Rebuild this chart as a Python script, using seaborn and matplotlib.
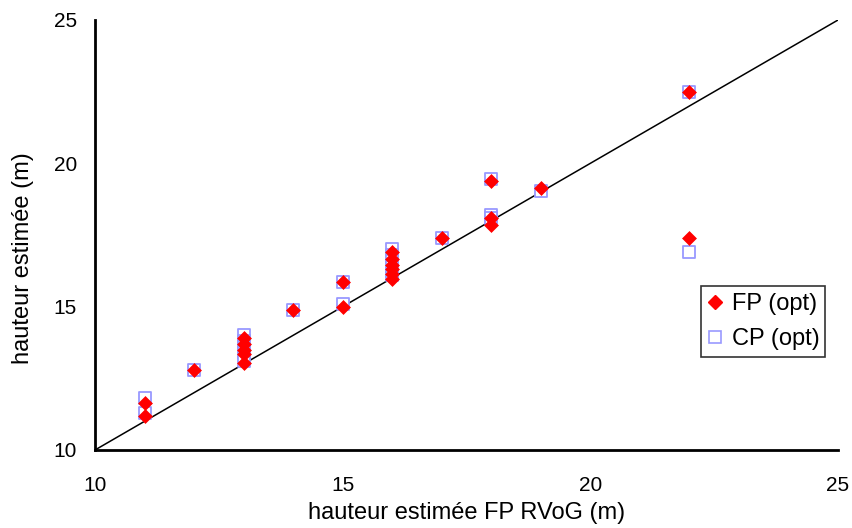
import matplotlib
matplotlib.use("Agg")
import matplotlib.pyplot as plt
import seaborn as sns
import pandas as pd
from matplotlib.lines import Line2D

# data
x_vals = [11, 11, 12, 13, 13, 13, 13, 13, 14, 15, 15,
          16, 16, 16, 16, 16, 16, 17, 18, 18, 18, 19, 22, 22]
fp_vals = [11.65, 11.2, 12.8, 13.9, 13.7, 13.5, 13.35, 13.05, 14.9, 15.85, 15.0,
           16.9, 16.65, 16.45, 16.3, 16.15, 15.95, 17.4, 19.4, 18.1, 17.85, 19.15, 22.5, 17.4]
cp_vals = [11.8, 11.3, 12.8, 14.0, 13.8, 13.6, 13.4, 13.1, 14.9, 15.85, 15.1,
           17.0, 16.8, 16.6, 16.4, 16.2, 16.1, 17.4, 19.45, 18.2, 18.1, 19.05, 22.5, 16.9]
line_x = [10, 25]
line_y = [10, 25]
ticks = [10, 15, 20, 25]

sns.set_style("white")
plt.rcParams['font.family'] = ['Liberation Sans', 'DejaVu Sans']
plt.rcParams.update({"text.color": "black", "axes.labelcolor": "black",
                     "xtick.color": "black", "ytick.color": "black"})

fig = plt.figure(figsize=(8.53, 5.28), dpi=100)
ax = fig.add_axes([95/853, 1-450/528, (838-95)/853, (450-20)/528])

df = pd.DataFrame({"x": x_vals, "fp": fp_vals, "cp": cp_vals})
sns.lineplot(x=line_x, y=line_y, ax=ax, color="black", linewidth=1.1, zorder=1)
sns.scatterplot(data=df, x="x", y="cp", ax=ax, marker="s", s=70,
                facecolor="white", edgecolor="#9999FF", linewidth=1.3, zorder=2)
sns.scatterplot(data=df, x="x", y="fp", ax=ax, marker="D", s=50,
                color="#FF0000", edgecolor="#FF0000", linewidth=0.5, zorder=3)

ax.set_xlim(10, 25)
ax.set_ylim(10, 25)
ax.set_xticks(ticks)
ax.set_yticks(ticks)
ax.tick_params(axis="x", direction="in", length=6, width=2, labelsize=15, pad=19,
               colors="black")
ax.tick_params(axis="y", direction="out", length=4, width=2, labelsize=15, pad=9,
               colors="black")
for side in ["top", "right"]:
    ax.spines[side].set_visible(False)
for side in ["left", "bottom"]:
    ax.spines[side].set_color("black")
    ax.spines[side].set_linewidth(2)
ax.set_xlabel("hauteur estimée FP RVoG (m)", fontsize=17, labelpad=5, color="black")
ax.set_ylabel("hauteur estimée (m)", fontsize=17, color="black")
ax.yaxis.set_label_coords(-0.082, 0.447)

handles = [
    Line2D([], [], marker="D", linestyle="none", color="#FF0000", markersize=7),
    Line2D([], [], marker="s", linestyle="none", markerfacecolor="white",
           markeredgecolor="#9999FF", markersize=8, markeredgewidth=1.2),
]
leg = ax.legend(handles, ["FP (opt)", "CP (opt)"], loc="lower left",
                bbox_to_anchor=(0.8156, 0.2163, 0.167, 0.16), mode="expand",
                fontsize=17, frameon=True, fancybox=False, handlelength=0.6,
                handletextpad=0.4, borderpad=0.3, labelspacing=0.55, borderaxespad=0)
leg.get_frame().set_edgecolor("black")
leg.get_frame().set_linewidth(1.2)

fig.savefig("out.png", dpi=100)
